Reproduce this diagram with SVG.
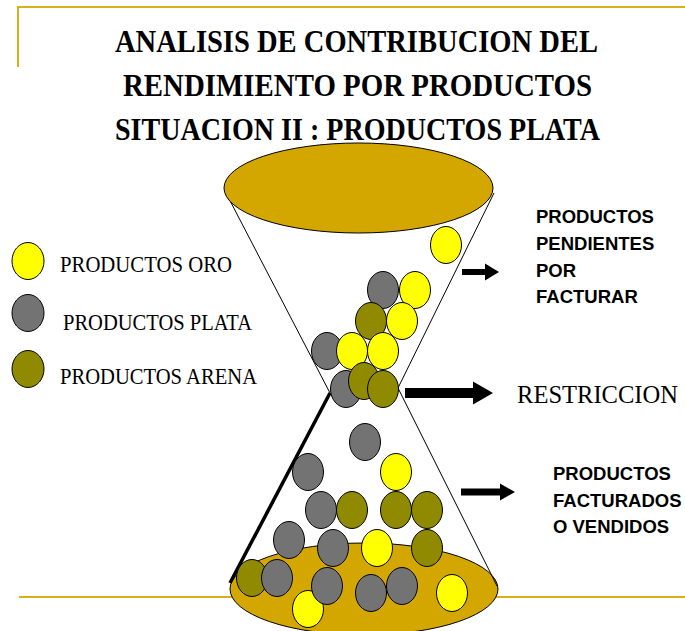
<svg xmlns="http://www.w3.org/2000/svg" width="685" height="631" viewBox="0 0 685 631">
  <style>
    .rule { stroke: #d9b01c; stroke-width: 2; fill: none; }
    .title { font-family: "Liberation Serif", "Times New Roman", serif; font-weight: bold; font-size: 32px; fill: #000; }
    .legend { font-family: "Liberation Serif", "Times New Roman", serif; font-size: 24px; fill: #000; }
    .note { font-family: "Liberation Sans", Arial, sans-serif; font-weight: bold; font-size: 18.5px; fill: #000; }
    .big { font-family: "Liberation Serif", "Times New Roman", serif; font-size: 25px; fill: #000; }
    .base { fill: #d4a600; stroke: #000; stroke-width: 1; }
    .ball { stroke: #000; stroke-width: 1; }
    .oro { fill: #ffff00; }
    .plata { fill: #737373; }
    .arena { fill: #8f8a00; }
    .edge { stroke: #000; stroke-width: 1; fill: none; }
    .edge-thick { stroke: #000; stroke-width: 3.5; fill: none; }
    .arrow { fill: #000; }
  </style>

  <!-- frame rules -->
  <g id="frame">
    <path class="rule" d="M18 67 V7 H685"/>
    <line class="rule" x1="19" y1="597" x2="685" y2="597"/>
  </g>

  <!-- title -->
  <g id="title">
    <text class="title" x="115" y="52" textLength="483" lengthAdjust="spacingAndGlyphs">ANALISIS DE CONTRIBUCION DEL</text>
    <text class="title" x="123" y="96" textLength="469" lengthAdjust="spacingAndGlyphs">RENDIMIENTO POR PRODUCTOS</text>
    <text class="title" x="115" y="140" textLength="485" lengthAdjust="spacingAndGlyphs">SITUACION II : PRODUCTOS PLATA</text>
  </g>

  <!-- legend -->
  <g id="legend-oro">
    <ellipse class="ball oro" cx="28" cy="261" rx="16" ry="18.5"/>
    <text class="legend" x="60" y="272" textLength="172" lengthAdjust="spacingAndGlyphs">PRODUCTOS ORO</text>
  </g>
  <g id="legend-plata">
    <ellipse class="ball plata" cx="28" cy="313" rx="16" ry="18.5"/>
    <text class="legend" x="63" y="330" textLength="189" lengthAdjust="spacingAndGlyphs">PRODUCTOS PLATA</text>
  </g>
  <g id="legend-arena">
    <ellipse class="ball arena" cx="28" cy="369" rx="16" ry="18.5"/>
    <text class="legend" x="60" y="384" textLength="197" lengthAdjust="spacingAndGlyphs">PRODUCTOS ARENA</text>
  </g>

  <!-- hourglass -->
  <g id="hourglass">
    <ellipse class="base" cx="364" cy="589" rx="134" ry="46"/>
    <path class="edge" d="M226 193 L330 393"/>
    <path class="edge-thick" d="M330 393 L230 583"/>
    <path class="edge" d="M494 193 L398 388 L497 586"/>
    <ellipse class="base" cx="358.5" cy="188" rx="134.5" ry="45"/>
  </g>

  <!-- products inside the hourglass -->
  <g id="products">
    <ellipse class="ball oro" cx="446" cy="245" rx="15.5" ry="18.5"/>
    <ellipse class="ball plata" cx="383" cy="290" rx="15.5" ry="18.5"/>
    <ellipse class="ball oro" cx="415" cy="290" rx="15.5" ry="18.5"/>
    <ellipse class="ball arena" cx="371" cy="321" rx="15.5" ry="18.5"/>
    <ellipse class="ball oro" cx="402" cy="321" rx="15.5" ry="18.5"/>
    <ellipse class="ball plata" cx="327" cy="351" rx="15.5" ry="18.5"/>
    <ellipse class="ball oro" cx="352" cy="351" rx="15.5" ry="18.5"/>
    <ellipse class="ball oro" cx="383" cy="351" rx="15.5" ry="18.5"/>
    <ellipse class="ball plata" cx="346" cy="389" rx="15.5" ry="18.5"/>
    <ellipse class="ball arena" cx="364" cy="381" rx="15.5" ry="18.5"/>
    <ellipse class="ball arena" cx="383" cy="389" rx="15.5" ry="18.5"/>

    <ellipse class="ball plata" cx="365" cy="442" rx="15.5" ry="18.5"/>
    <ellipse class="ball plata" cx="308" cy="472" rx="15.5" ry="18.5"/>
    <ellipse class="ball oro" cx="396" cy="472" rx="15.5" ry="18.5"/>
    <ellipse class="ball plata" cx="321" cy="510" rx="15.5" ry="18.5"/>
    <ellipse class="ball arena" cx="352" cy="510" rx="15.5" ry="18.5"/>
    <ellipse class="ball arena" cx="396" cy="510" rx="15.5" ry="18.5"/>
    <ellipse class="ball arena" cx="427" cy="510" rx="15.5" ry="18.5"/>
    <ellipse class="ball plata" cx="289" cy="540" rx="15.5" ry="18.5"/>
    <ellipse class="ball plata" cx="333" cy="548" rx="15.5" ry="18.5"/>
    <ellipse class="ball oro" cx="377" cy="548" rx="15.5" ry="18.5"/>
    <ellipse class="ball arena" cx="427" cy="548" rx="15.5" ry="18.5"/>
    <ellipse class="ball arena" cx="252" cy="578" rx="15.5" ry="18.5"/>
    <ellipse class="ball plata" cx="277" cy="578" rx="15.5" ry="18.5"/>
    <ellipse class="ball oro" cx="308" cy="609" rx="15.5" ry="18.5"/>
    <ellipse class="ball plata" cx="327" cy="586" rx="15.5" ry="18.5"/>
    <ellipse class="ball plata" cx="371" cy="593" rx="15.5" ry="18.5"/>
    <ellipse class="ball plata" cx="402" cy="586" rx="15.5" ry="18.5"/>
    <ellipse class="ball oro" cx="452" cy="593" rx="15.5" ry="18.5"/>
  </g>

  <!-- arrows -->
  <g id="connectors">
    <path class="arrow" d="M462 269 H485 V263.5 L499 272 L485 280.5 V275 H462 Z"/>
    <path class="arrow" d="M405 388 H473 V381.5 L493 393 L473 404.5 V398 H405 Z"/>
    <path class="arrow" d="M461 488.5 H500 V483.5 L515 492 L500 500.5 V495.5 H461 Z"/>
  </g>

  <!-- labels -->
  <g id="label-pendientes">
    <text class="note" x="536" y="223">PRODUCTOS</text>
    <text class="note" x="536" y="250">PENDIENTES</text>
    <text class="note" x="536" y="277">POR</text>
    <text class="note" x="536" y="303">FACTURAR</text>
  </g>
  <g id="label-restriccion">
    <text class="big" x="517" y="403" textLength="161" lengthAdjust="spacingAndGlyphs">RESTRICCION</text>
  </g>
  <g id="label-facturados">
    <text class="note" x="553" y="480">PRODUCTOS</text>
    <text class="note" x="553" y="507">FACTURADOS</text>
    <text class="note" x="553" y="533">O VENDIDOS</text>
  </g>
</svg>
